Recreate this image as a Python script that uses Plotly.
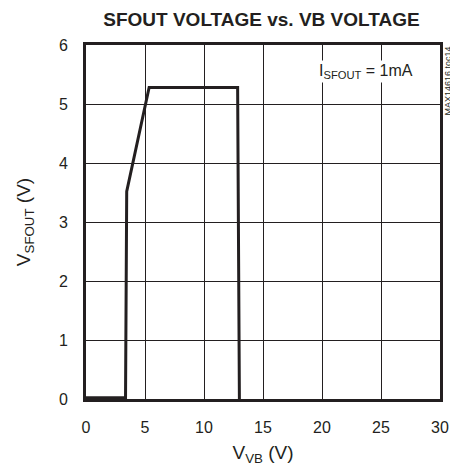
import plotly.graph_objects as go

vvb = [0, 3.3, 3.35, 3.45, 5.35, 12.85, 13.0]
vsfout = [0.02, 0.02, 0.02, 3.52, 5.28, 5.28, 0.0]

x_ticks = [0, 5, 10, 15, 20, 25, 30]
y_ticks = [0, 1, 2, 3, 4, 5, 6]

font_family = "Liberation Sans"

fig = go.Figure()
fig.add_trace(go.Scatter(x=vvb, y=vsfout, mode="lines",
                         line=dict(color="#231f20", width=3), showlegend=False,
                         hoverinfo="skip"))

fig.update_layout(
    width=450, height=466,
    margin=dict(l=86, r=10, t=45, b=67, autoexpand=False),
    paper_bgcolor="white", plot_bgcolor="white",
    font=dict(family=font_family, size=16, color="#231f20"),
    title=dict(text="<b>SFOUT VOLTAGE vs. VB VOLTAGE</b>", x=0.581, xanchor="center",
               y=1 - 19 / 466, yanchor="middle", font=dict(size=19, family=font_family)),
    xaxis=dict(range=[0, 30], tickvals=x_ticks, ticks="", showgrid=True,
               gridcolor="#231f20", gridwidth=1, zeroline=False,
               showline=True, linecolor="#231f20", linewidth=3, mirror=True,
               automargin=False, ticklabelstandoff=12, tickfont=dict(size=16),
               title=dict(text="V<sub>VB</sub> (V)", standoff=14)),
    yaxis=dict(range=[0, 6], tickvals=y_ticks, ticks="", showgrid=True,
               gridcolor="#231f20", gridwidth=1, zeroline=False,
               showline=True, linecolor="#231f20", linewidth=3, mirror=True,
               automargin=False, ticklabelstandoff=12, tickfont=dict(size=16),
               title=dict(text="V<sub>SFOUT</sub> (V)", standoff=24)),
    annotations=[
        dict(text="I<sub>SFOUT</sub> = 1mA", x=0.93, y=0.925, xref="paper", yref="paper",
             xanchor="right", yanchor="middle", showarrow=False, bgcolor="white",
             font=dict(size=16)),
        dict(text="MAX14616 toc14", x=1.0, y=1.0, xref="paper", yref="paper",
             xanchor="left", yanchor="top", xshift=0, showarrow=False, textangle=-90,
             font=dict(size=9)),
    ],
)

fig.write_html("out.html", post_script="document.body.style.margin='0';",
               config={"displayModeBar": False})
